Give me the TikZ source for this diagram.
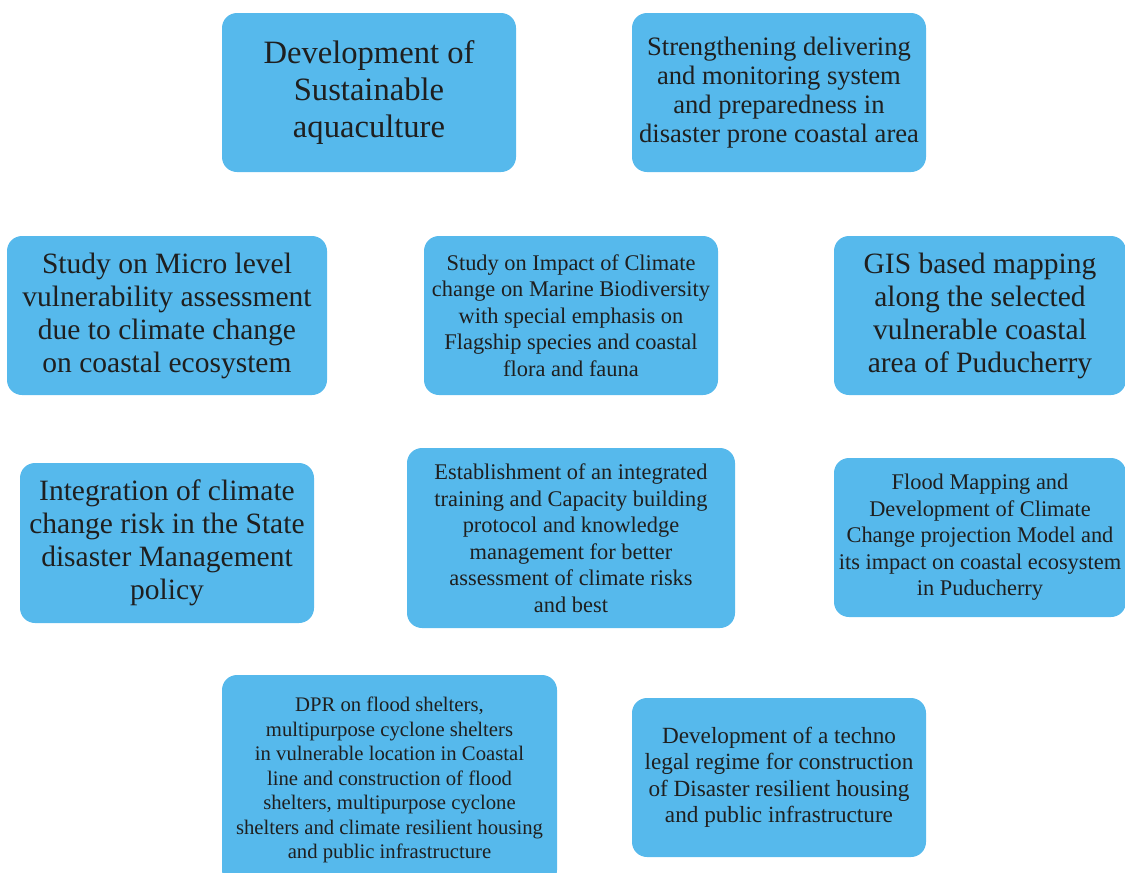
\documentclass[tikz,border=0pt]{standalone}
\usepackage{fontspec}
\setmainfont{Liberation Serif}
\definecolor{boxblue}{RGB}{86,185,236}

\begin{document}
\begin{tikzpicture}[x=1pt,y=-1pt,
          goal/.style={
            rectangle,
            rounded corners=15pt,
            fill=boxblue,
            text=black!88,
            align=center,
            inner sep=0pt,
            minimum height=159pt,
          },
          huge/.style={font=\fontsize{32.6}{37}\selectfont},
          large/.style={font=\fontsize{29.5}{33}\selectfont},
          mid/.style={font=\fontsize{26.6}{29}\selectfont},
          small/.style={font=\fontsize{22.4}{26.5}\selectfont},
          plain/.style={font=\fontsize{23.2}{26.5}\selectfont},
          tiny/.style={font=\fontsize{20.7}{24.5}\selectfont},
        ]
          \useasboundingbox (0,0) rectangle (1125,873);
          \node[goal,huge,minimum width=294pt](aqua) at (369,92.5)
            {Development of\\Sustainable\\aquaculture};
          \node[goal,mid,minimum width=294pt](warn) at (779,92.5)
            {Strengthening delivering\\and monitoring system\\and preparedness in\\disaster prone coastal area};
          \node[goal,large,minimum width=320pt](micro) at (167,315.5)
            {Study on Micro level\\vulnerability assessment\\due to climate change\\on coastal ecosystem};
          \node[goal,small,minimum width=294pt](bio) at (571,315.5)
            {Study on Impact of Climate\\change on Marine Biodiversity\\with special emphasis on\\Flagship species and coastal\\flora and fauna};
          \node[goal,large,minimum width=292pt](gis) at (980,315.5)
            {GIS based mapping\\along the selected\\vulnerable coastal\\area of Puducherry};
          \node[goal,large,minimum width=294pt,minimum height=160pt](policy) at (167,543)
            {Integration of climate\\change risk in the State\\disaster Management\\policy};
          \node[goal,small,minimum width=328pt,minimum height=180pt](train) at (571,538)
            {Establishment of an integrated\\training and Capacity building\\protocol and knowledge\\management for better\\assessment of climate risks\\and best};
          \node[goal,small,minimum width=292pt](flood) at (980,537.5)
            {Flood Mapping and\\Development of Climate\\Change projection Model and\\its impact on coastal ecosystem\\in Puducherry};
          \node[goal,tiny,minimum width=335pt,minimum height=210pt](dpr) at (389.5,780)
            {DPR on flood shelters,\\multipurpose cyclone shelters\\in vulnerable location in Coastal\\line and construction of flood\\shelters, multipurpose cyclone\\shelters and climate resilient housing\\and public infrastructure};
          \node[goal,plain,minimum width=294pt](legal) at (779,777.5)
            {Development of a techno\\legal regime for construction\\of Disaster resilient housing\\and public infrastructure};
        \end{tikzpicture}
\end{document}
